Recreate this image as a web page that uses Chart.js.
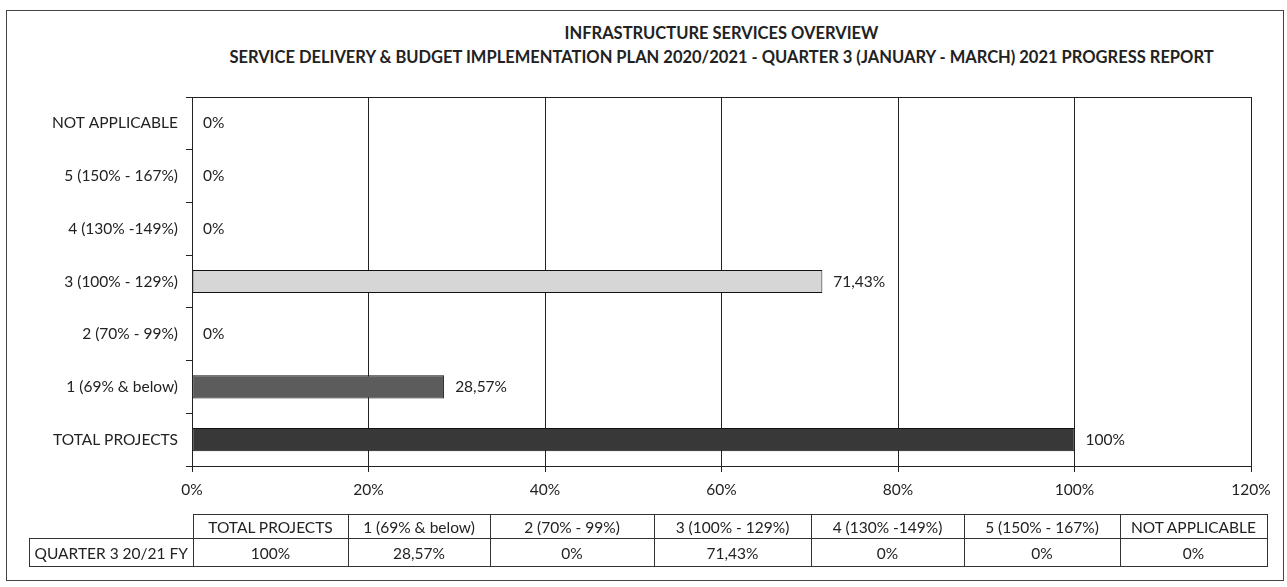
<!DOCTYPE html>
<html>
<head>
<meta charset="utf-8">
<script src="https://cdn.jsdelivr.net/npm/chart.js@4"></script>
<style>
  html, body { margin: 0; padding: 0; background: #fff; }
  body { width: 1287px; height: 587px; position: relative; overflow: hidden; font-family: Lato, "Open Sans", sans-serif; color: #222; }
  #frame { position: absolute; left: 6px; top: 10px; width: 1278px; height: 571px; border: 1px solid #444; box-sizing: border-box; }
  #chart { position: absolute; left: 0; top: 0; }
  .title { position: absolute; left: 192px; width: 1059px; text-align: center; font-weight: bold; font-size: 16.5px; color: #222; white-space: nowrap; }
  #tbl { position: absolute; left: 29px; top: 514px; border-collapse: collapse; font-size: 15.5px; color: #222; table-layout: fixed; }
  #tbl td { padding: 0; text-align: center; border: 1px solid #333; white-space: nowrap; overflow: hidden; }
  #tbl tr.head td { height: 23px; }
  #tbl tr.vals td { height: 27px; }
  #tbl td.blank { border: none; }
</style>
</head>
<body>
<div id="frame"></div>
<div class="title" style="top:23px">INFRASTRUCTURE SERVICES OVERVIEW</div>
<div class="title" style="top:47px">SERVICE DELIVERY &amp; BUDGET IMPLEMENTATION PLAN 2020/2021 - QUARTER 3 (JANUARY - MARCH) 2021 PROGRESS REPORT</div>
<canvas id="chart" width="1287" height="587"></canvas>
<table id="tbl"></table>
<script>
// categories as they appear on the chart, top to bottom
const categories = ['NOT APPLICABLE', '5 (150% - 167%)', '4 (130% -149%)', '3 (100% - 129%)', '2 (70% - 99%)', '1 (69% & below)', 'TOTAL PROJECTS'];
const values = [0, 0, 0, 71.43, 0, 28.57, 100];
const xTicks = [0, 20, 40, 60, 80, 100, 120];

// data table below the chart (left to right)
const tableHeaders = ['TOTAL PROJECTS', '1 (69% & below)', '2 (70% - 99%)', '3 (100% - 129%)', '4 (130% -149%)', '5 (150% - 167%)', 'NOT APPLICABLE'];
const tableRowLabel = 'QUARTER 3 20/21 FY';
const tableValues = ['100%', '28,57%', '0%', '71,43%', '0%', '0%', '0%'];

const barColors = ['#d4d4d4', '#d4d4d4', '#d4d4d4', '#d6d6d6', '#d4d4d4', '#5c5c5c', '#383838'];
const colWidths = [154, 141, 163, 156, 152, 155, 146];

function pct(v) {
    return String(v).replace('.', ',') + '%';
}

// build table
const tbl = document.getElementById('tbl');
let html = '<tr class="head"><td class="blank" style="width:163px"></td>';
tableHeaders.forEach((h, i) => { html += '<td style="width:' + colWidths[i] + 'px">' + h + '</td>'; });
html += '</tr><tr class="vals"><td>' + tableRowLabel + '</td>';
tableValues.forEach(v => { html += '<td>' + v + '</td>'; });
html += '</tr>';
tbl.innerHTML = html;

const valueLabels = {
    id: 'valueLabels',
    afterDatasetsDraw(chart) {
        const ctx = chart.ctx;
        const meta = chart.getDatasetMeta(0);
        ctx.save();
        ctx.font = '15.5px Lato, "Open Sans", sans-serif';
        ctx.fillStyle = '#222';
        ctx.textBaseline = 'middle';
        meta.data.forEach((bar, i) => {
            ctx.fillText(pct(values[i]), bar.x + 11, bar.y);
        });
        ctx.restore();
    }
};

const plotBorder = {
    id: 'plotBorder',
    afterDraw(chart) {
        const a = chart.chartArea;
        const ctx = chart.ctx;
        ctx.save();
        ctx.strokeStyle = '#222';
        ctx.lineWidth = 1;
        ctx.strokeRect(a.left + 0.5, a.top + 0.5, a.right - a.left, a.bottom - a.top);
        ctx.restore();
    }
};

const config = {
    type: 'bar',
    data: {
        labels: categories,
        datasets: [{
            data: values,
            backgroundColor: barColors,
            borderColor: '#111',
            borderWidth: 1,
            borderSkipped: false,
            barPercentage: 0.44,
            categoryPercentage: 1
        }]
    },
    options: {
        indexAxis: 'y',
        responsive: false,
        animation: false,
        layout: { padding: { left: 4, right: 36, top: 97, bottom: 87 } },
        plugins: {
            legend: { display: false },
            tooltip: { enabled: false }
        },
        scales: {
            x: {
                min: 0,
                max: 120,
                afterBuildTicks: scale => { scale.ticks = xTicks.map(v => ({ value: v })); },
                afterFit: scale => { scale.height = 34; },
                grid: { color: '#222', tickLength: 6, tickColor: '#222' },
                border: { color: '#222' },
                ticks: {
                    padding: 9,
                    color: '#222',
                    font: { family: 'Lato, "Open Sans", sans-serif', size: 15.5 },
                    callback: v => v + '%'
                }
            },
            y: {
                afterFit: scale => { scale.width = 188; },
                grid: { drawOnChartArea: false, offset: true, tickLength: 6, tickColor: '#222' },
                border: { color: '#222' },
                ticks: {
                    padding: 8,
                    color: '#222',
                    font: { family: 'Lato, "Open Sans", sans-serif', size: 15.5 }
                }
            }
        }
    },
    plugins: [valueLabels, plotBorder]
};

new Chart(document.getElementById('chart'), config);
</script>
</body>
</html>
